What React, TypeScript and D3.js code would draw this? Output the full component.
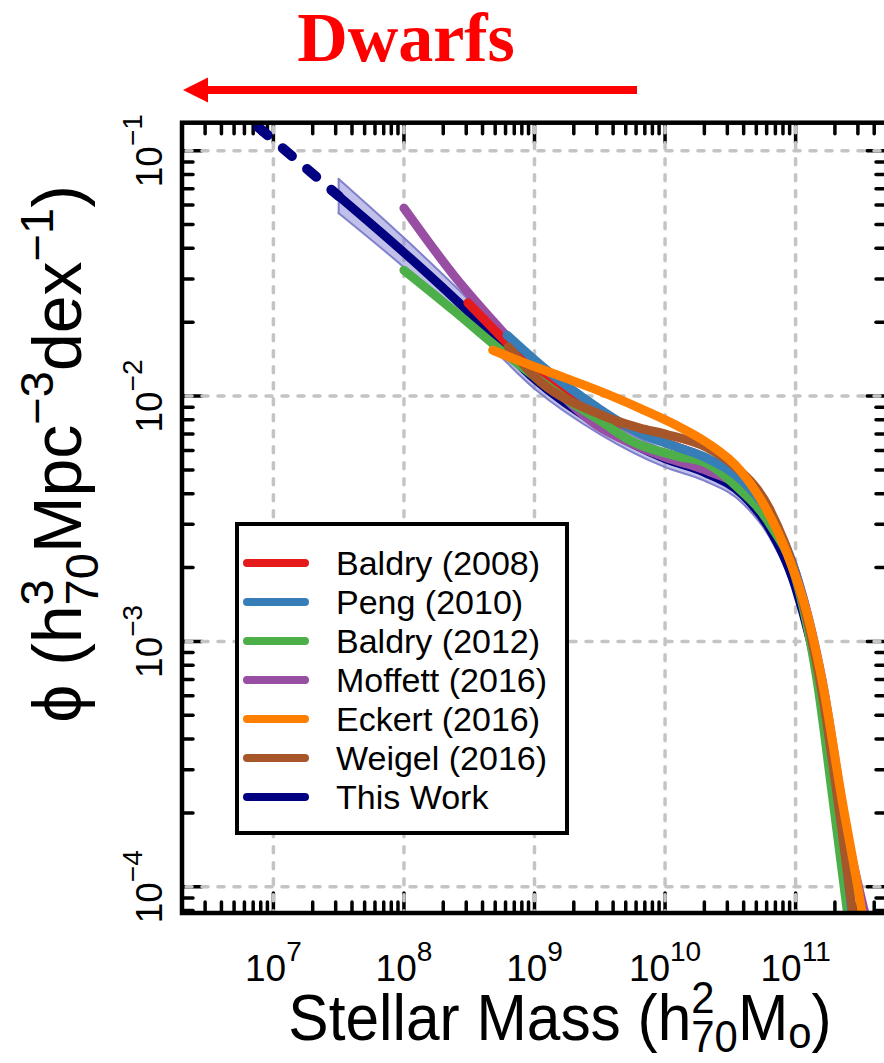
import React from 'react';
import * as d3 from 'd3';

// Axis decades and tick label exponents
const xDecades = [7, 8, 9, 10, 11];
const xTickExp = ['7', '8', '9', '10', '11'];
const yDecades = [-1, -2, -3, -4];
const yTickExp = ['−1', '−2', '−3', '−4'];

// Stellar mass functions: [log10 M*, log10 phi]
const baldry2008 = [
  [8.49, -1.62], [8.79, -1.784], [9.0, -1.9], [9.5, -2.07], [10.0, -2.19], [10.3, -2.25],
  [10.6, -2.35], [10.8, -2.48], [11.0, -2.73], [11.2, -3.18], [11.35, -3.75], [11.45, -4.2],
];
const peng2010 = [
  [8.79, -1.752], [9.065, -1.882], [9.479, -2.046], [9.8, -2.15], [10.09, -2.208], [10.32, -2.253],
  [10.6, -2.35], [10.8, -2.48], [11.0, -2.72], [11.2, -3.17], [11.35, -3.72], [11.45, -4.2],
];
const baldry2012 = [
  [8.0, -1.487], [8.4, -1.66], [8.7, -1.795], [9.0, -1.92], [9.22, -2.005], [9.5, -2.1],
  [9.73, -2.18], [10.09, -2.245], [10.32, -2.275], [10.55, -2.37], [10.8, -2.52], [11.0, -2.74],
  [11.164, -3.158], [11.287, -3.648], [11.42, -4.2],
];
const moffett2016 = [
  [8.0, -1.234], [8.4, -1.52], [8.76, -1.74], [9.0, -1.88], [9.479, -2.12], [9.732, -2.19],
  [10.0, -2.25], [10.3, -2.3], [10.6, -2.38], [10.8, -2.5], [11.0, -2.72], [11.2, -3.15],
  [11.4, -3.8], [11.55, -4.15],
];
const eckert2016 = [
  [8.68, -1.813], [8.9, -1.86], [9.218, -1.923], [9.5, -1.98], [9.808, -2.05], [10.09, -2.12],
  [10.321, -2.19], [10.574, -2.302], [10.78, -2.465], [10.934, -2.64], [11.087, -2.885],
  [11.202, -3.158], [11.356, -3.648], [11.509, -4.107], [11.55, -4.25],
];
const weigel2016 = [
  [8.8, -1.8], [9.0, -1.92], [9.479, -2.07], [9.808, -2.131], [10.0, -2.155], [10.321, -2.21],
  [10.52, -2.28], [10.8, -2.46], [11.0, -2.73], [11.2, -3.2], [11.35, -3.75], [11.46, -4.2],
];
// This work: extrapolated faint end (dashed) and measured range (solid, with uncertainty band)
const thisWorkExtrap = [[6.7, -0.82], [7.0, -0.957], [7.5, -1.185]];
const thisWork = [
  [7.5, -1.185], [8.0, -1.415], [8.5, -1.66], [9.0, -1.93], [9.5, -2.12], [10.0, -2.255],
  [10.3, -2.31], [10.6, -2.405], [10.8, -2.54], [11.0, -2.78], [11.2, -3.22], [11.35, -3.75],
  [11.45, -4.2],
];
const thisWorkErr = [0.07, 0.06, 0.05, 0.04, 0.035, 0.035, 0.035, 0.035, 0.035, 0.04, 0.05, 0.06, 0.06];

const legendNames = [
  'Baldry (2008)', 'Peng (2010)', 'Baldry (2012)', 'Moffett (2016)',
  'Eckert (2016)', 'Weigel (2016)', 'This Work',
];
const legendColors = ['#e41a1c', '#377eb8', '#4daf4a', '#984ea3', '#ff7f00', '#a65628', '#000080'];

const W = 884;
const H = 1063;
const L = 182, R = 887, T = 122.7, B = 913;

export default function App() {
  const x = d3.scaleLog().domain([10 ** 6.3, 10 ** 11.7]).range([L, R]);
  const y = d3.scaleLog().domain([10 ** -4.107, 10 ** -0.886]).range([B, T]);

  const line = d3
    .line<number[]>()
    .x((d) => x(10 ** d[0]))
    .y((d) => y(10 ** d[1]))
    .curve(d3.curveMonotoneX);

  const band = d3
    .area<number[]>()
    .x((d) => x(10 ** d[0]))
    .y0((d, i) => y(10 ** (d[1] - thisWorkErr[i])))
    .y1((d, i) => y(10 ** (d[1] + thisWorkErr[i])))
    .curve(d3.curveMonotoneX);

  const bandUpper = d3
    .line<number[]>()
    .x((d) => x(10 ** d[0]))
    .y((d, i) => y(10 ** (d[1] + thisWorkErr[i])))
    .curve(d3.curveMonotoneX);
  const bandLower = d3
    .line<number[]>()
    .x((d) => x(10 ** d[0]))
    .y((d, i) => y(10 ** (d[1] - thisWorkErr[i])))
    .curve(d3.curveMonotoneX);

  // tick positions (major at decades, minor at 2..9)
  const xTicks: { v: number; major: boolean }[] = [];
  for (let k = 6; k <= 11; k++) {
    for (let m = 1; m <= 9; m++) {
      const v = m * 10 ** k;
      if (v >= 10 ** 6.3 && v <= 10 ** 11.7) xTicks.push({ v, major: m === 1 });
    }
  }
  const yTicks: { v: number; major: boolean }[] = [];
  for (let k = -5; k <= -1; k++) {
    for (let m = 1; m <= 9; m++) {
      const v = m * 10 ** k;
      if (v >= 10 ** -4.107 && v <= 10 ** -0.886) yTicks.push({ v, major: m === 1 });
    }
  }
  const minorLen = 11;
  const majorLen = 20;

  const drawOrder: [number[][], string][] = [
    [moffett2016, legendColors[3]],
    [baldry2008, legendColors[0]],
    [baldry2012, legendColors[2]],
    [peng2010, legendColors[1]],
    [weigel2016, legendColors[5]],
    [eckert2016, legendColors[4]],
  ];

  const font = 'Liberation Sans, Arial, Helvetica, sans-serif';
  const tickFs = 37;
  const supFs = 28;
  const titleFs = 65;
  const tSub = 45;
  const yTitleFs = 68;
  const ySub = 47;

  return (
    <svg
      width={W}
      height={H}
      viewBox={`0 0 ${W} ${H}`}
      style={{ position: 'absolute', left: 0, top: 0, background: '#fff' }}
    >
      <defs>
        <clipPath id="plotClip">
          <rect x={L} y={T} width={R - L} height={B - T} />
        </clipPath>
      </defs>
      <rect x={0} y={0} width={W} height={H} fill="#fff" />

      {/* Dwarfs annotation */}
      <text
        x={406}
        y={61}
        textAnchor="middle"
        fill="#ff0000"
        fontFamily="Liberation Serif, Times New Roman, serif"
        fontWeight="bold"
        fontSize={70}
      >
        Dwarfs
      </text>
      <line x1={637} y1={90} x2={204} y2={90} stroke="#ff0000" strokeWidth={8} />
      <polygon points="183,90 208,77.5 208,102.5" fill="#ff0000" />

      {/* ticks */}
      <g stroke="#000" strokeWidth={3.5} strokeLinecap="round">
        {xTicks.map((t, i) => {
          const px = x(t.v);
          const len = t.major ? majorLen : minorLen;
          return (
            <g key={'xt' + i}>
              <line x1={px} x2={px} y1={T} y2={T + len} />
              <line x1={px} x2={px} y1={B} y2={B - len} />
            </g>
          );
        })}
        {yTicks.map((t, i) => {
          const py = y(t.v);
          const len = t.major ? majorLen : minorLen;
          return (
            <g key={'yt' + i}>
              <line x1={L} x2={L + len} y1={py} y2={py} />
              <line x1={R} x2={R - len} y1={py} y2={py} />
            </g>
          );
        })}
      </g>

      {/* grid */}
      <g stroke="#c4c4c4" strokeWidth={3.5} strokeDasharray="6 10" strokeLinecap="round">
        {xDecades.map((d) => (
          <line key={'gx' + d} x1={x(10 ** d)} x2={x(10 ** d)} y1={T + 4} y2={B - 2} />
        ))}
        {yDecades.map((d) => (
          <line key={'gy' + d} x1={L + 4} x2={R} y1={y(10 ** d)} y2={y(10 ** d)} />
        ))}
      </g>

      {/* curves */}
      <g clipPath="url(#plotClip)" fill="none" strokeLinecap="round" strokeLinejoin="round">
        <path d={band(thisWork) || ''} fill="#8c8cd9" fillOpacity={0.55} stroke="none" />
        <path d={bandUpper(thisWork) || ''} stroke="#8080cc" strokeWidth={2} />
        <path d={bandLower(thisWork) || ''} stroke="#8080cc" strokeWidth={2} />
        <line
          x1={x(10 ** 7.5)}
          x2={x(10 ** 7.5)}
          y1={y(10 ** (thisWork[0][1] + thisWorkErr[0]))}
          y2={y(10 ** (thisWork[0][1] - thisWorkErr[0]))}
          stroke="#8080cc"
          strokeWidth={2}
        />
        <path d={line(thisWork) || ''} stroke="#000080" strokeWidth={9} />
        <path
          d={line(thisWorkExtrap) || ''}
          stroke="#000080"
          strokeWidth={10}
          strokeDasharray="12 20"
        />
        {drawOrder.map(([data, color], i) => (
          <path key={'c' + i} d={line(data) || ''} stroke={color} strokeWidth={9} />
        ))}
      </g>

      {/* frame */}
      <rect x={L} y={T} width={R - L} height={B - T} fill="none" stroke="#000" strokeWidth={4.5} />

      {/* x tick labels */}
      <g fontFamily={font} fill="#000">
        {xDecades.map((d, i) => (
          <text key={'xl' + d} x={x(10 ** d)} y={981} textAnchor="middle" fontSize={tickFs}>
            10
            <tspan fontSize={supFs} dy={-20}>
              {xTickExp[i]}
            </tspan>
          </text>
        ))}
      </g>

      {/* y tick labels */}
      <g fontFamily={font} fill="#000">
        {yDecades.map((d, i) => (
          <text
            key={'yl' + d}
            transform={`translate(162, ${y(10 ** d)}) rotate(-90)`}
            textAnchor="middle"
            fontSize={tickFs}
          >
            10
            <tspan fontSize={supFs} dy={-20}>
              {yTickExp[i]}
            </tspan>
          </text>
        ))}
      </g>

      {/* x title */}
      <g transform="translate(560, 1040) scale(0.93, 1)">
        <text x={0} y={0} textAnchor="middle" fontFamily={font} fontSize={titleFs} fill="#000">
          Stellar Mass (h
          <tspan fontSize={tSub} dy={-27}>2</tspan>
          <tspan fontSize={tSub} dx={-tSub * 0.556} dy={39}>70</tspan>
          <tspan dy={-12}>M</tspan>
          <tspan fontSize={tSub} dy={8}>o</tspan>
          <tspan dy={-8}>)</tspan>
        </text>
      </g>

      {/* y title */}
      <text
        transform="translate(81, 454) rotate(-90)"
        textAnchor="middle"
        fontFamily={font}
        fontSize={yTitleFs}
        fill="#000"
      >
        ϕ (h
        <tspan fontSize={ySub} dy={-28}>3</tspan>
        <tspan fontSize={ySub} dx={-ySub * 0.556} dy={45}>70</tspan>
        <tspan dy={-17}>Mpc</tspan>
        <tspan fontSize={ySub} dy={-28}>−3</tspan>
        <tspan dy={28}>dex</tspan>
        <tspan fontSize={ySub} dy={-28}>−1</tspan>
        <tspan dy={28}>)</tspan>
      </text>

      {/* legend */}
      <rect x={237} y={524} width={330} height={309} fill="#fff" stroke="#000" strokeWidth={4} />
      {legendNames.map((name, i) => {
        const ry = 563 + i * 39;
        return (
          <g key={'lg' + i}>
            <line
              x1={247}
              x2={305}
              y1={ry}
              y2={ry}
              stroke={legendColors[i]}
              strokeWidth={8}
              strokeLinecap="round"
            />
            <text x={336} y={ry + 12} fontFamily={font} fontSize={34} fill="#000">
              {name}
            </text>
          </g>
        );
      })}
    </svg>
  );
}
